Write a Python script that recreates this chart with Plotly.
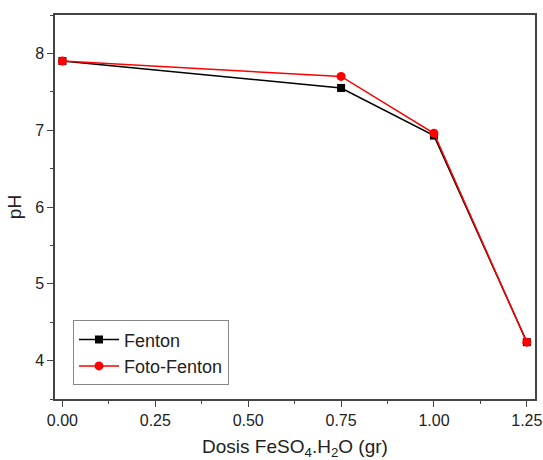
import plotly.graph_objects as go

dosis = [0.0, 0.75, 1.0, 1.25]
ph_fenton = [7.9, 7.55, 6.93, 4.24]
ph_foto_fenton = [7.9, 7.7, 6.96, 4.24]

FONT = "Liberation Sans, Arial"

fig = go.Figure()
fig.add_trace(go.Scatter(x=dosis, y=ph_fenton, mode="lines+markers", name="Fenton",
                         line=dict(color="black", width=1.5),
                         marker=dict(symbol="square", size=8, color="black")))
fig.add_trace(go.Scatter(x=dosis, y=ph_foto_fenton, mode="lines+markers", name="Foto-Fenton",
                         line=dict(color="red", width=1.5),
                         marker=dict(symbol="circle", size=9, color="red")))

axis_common = dict(showline=True, linecolor="#444", linewidth=1.5, mirror=True,
                   ticks="outside", ticklen=6, tickwidth=1.2, tickcolor="#444",
                   showgrid=False, zeroline=False, automargin=False,
                   tickfont=dict(family=FONT, size=16, color="#222"))

fig.update_layout(
    width=543, height=460,
    margin=dict(l=55, r=8, t=15, b=61),
    plot_bgcolor="white", paper_bgcolor="white",
    xaxis=dict(range=[-0.02, 1.272], tickvals=[0, 0.25, 0.5, 0.75, 1.0, 1.25], tickformat=".2f",
               minor=dict(ticks="outside", ticklen=3, dtick=0.125, tick0=0, tickcolor="#444"),
               title=dict(text="Dosis FeSO<sub>4</sub>.H<sub>2</sub>O (gr)",
                          font=dict(family=FONT, size=19, color="#222"), standoff=14),
               **axis_common),
    yaxis=dict(range=[3.5, 8.5], tickvals=[4, 5, 6, 7, 8],
               minor=dict(ticks="outside", ticklen=3, dtick=0.5, tick0=0, tickcolor="#444"),
               title=dict(text="pH", font=dict(family=FONT, size=19, color="#222"), standoff=8),
               **axis_common),
    legend=dict(x=0.0375, y=0.205, xanchor="left", yanchor="top",
                bordercolor="#888", borderwidth=1, bgcolor="white",
                font=dict(family=FONT, size=18, color="#222"),
                tracegroupgap=0, itemwidth=40),
    showlegend=True,
)

fig.write_html("out.html")
